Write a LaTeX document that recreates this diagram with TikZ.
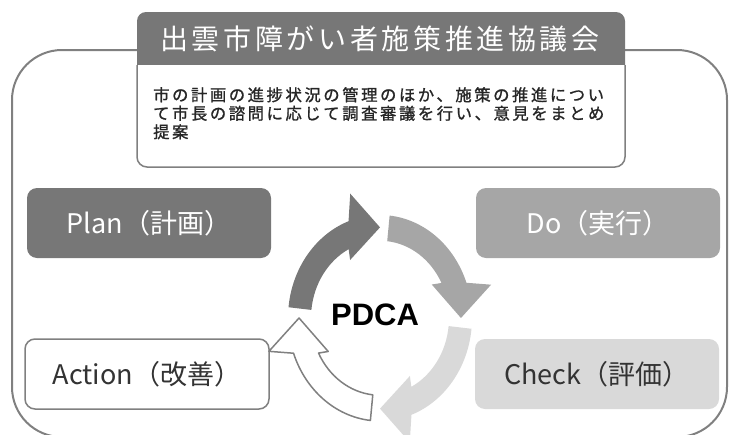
\documentclass[tikz,border=0pt]{standalone}
\usepackage{fontspec}
\setmainfont{Noto Sans CJK JP}
\newfontfamily\titlefont{Noto Sans CJK JP}[LetterSpace=13]
\newfontfamily\descfont{Noto Sans CJK JP}[LetterSpace=16, FakeBold=1.2]
\newfontfamily\pdcafont{Liberation Sans}
\definecolor{framegray}{HTML}{808080}
\definecolor{plangray}{HTML}{777777}
\definecolor{dogray}{HTML}{A6A6A6}
\definecolor{checkgray}{HTML}{D9D9D9}
\definecolor{textdark}{HTML}{333333}

\begin{document}
\begin{tikzpicture}[x=1pt, y=-1pt,
    phasebox/.style={rounded corners=10pt, minimum width=244pt, minimum height=70pt, inner sep=0pt, font=\fontsize{27}{27}\selectfont},
    planarrow/.style={fill=plangray},
    doarrow/.style={fill=dogray},
    checkarrow/.style={fill=checkgray},
    actionarrow/.style={fill=white, draw=framegray, line width=1.5pt, line join=round}]
    \useasboundingbox (0,0) rectangle (731,434);
    \clip (0,0) rectangle (731,434);
    \draw[framegray, line width=2pt, rounded corners=50pt] (12,50) rectangle (727,437);
    \fill[plangray] (137,65) [rounded corners=9pt] -- (137,12) -- (625,12) [sharp corners] -- (625,65) -- cycle;
    \filldraw[fill=white, draw=framegray, line width=1.5pt] (137,65) [rounded corners=10pt] -- (137,167) -- (625,167) [sharp corners] -- (625,65);
    \node[text=white, font=\titlefont\fontsize{28}{28}\selectfont] (title) at (380,39) {出雲市障がい者施策推進協議会};
    \node[anchor=north west, align=left, inner sep=0pt, text=black!85, font=\descfont\fontsize{16.3}{18.5}\selectfont] (desc) at (153,87)
        {市の計画の進捗状況の管理のほか、施策の推進につい\\て市長の諮問に応じて調査審議を行い、意見をまとめ\\提案};
    \node[phasebox, fill=plangray, text=white] (plan) at (149,223) {Plan（計画）};
    \node[phasebox, fill=dogray, text=white] (do) at (598,223) {Do（実行）};
    \node[phasebox, fill=checkgray, text=textdark] (check) at (597,374) {Check（評価）};
    \node[phasebox, fill=white, draw=framegray, line width=1.5pt, text=textdark] (action) at (147,374) {Action（改善）};
    \begin{scope}[shift={(380pt,-318pt)}, x=0.92pt, y=1.03pt]
        \path[planarrow] (174:100) arc[start angle=174, end angle=110, radius=100] -- (105:125) -- (90:88) -- (120:65) -- (117:75) arc[start angle=117, end angle=174, radius=75] -- cycle;
        \path[doarrow] (84:100) arc[start angle=84, end angle=20, radius=100] -- (15:125) -- (0:88) -- (30:65) -- (27:75) arc[start angle=27, end angle=84, radius=75] -- cycle;
        \path[checkarrow] (-6:100) arc[start angle=-6, end angle=-70, radius=100] -- (-75:125) -- (-90:88) -- (-60:65) -- (-63:75) arc[start angle=-63, end angle=-6, radius=75] -- cycle;
        \draw[actionarrow] (264:100) arc[start angle=264, end angle=200, radius=100] -- (195:125) -- (180:88) -- (210:65) -- (207:75) arc[start angle=207, end angle=264, radius=75] -- cycle;
    \end{scope}
    \node[text=black, font=\pdcafont\bfseries\fontsize{31}{31}\selectfont] (pdca) at (375,315) {PDCA};
\end{tikzpicture}
\end{document}
